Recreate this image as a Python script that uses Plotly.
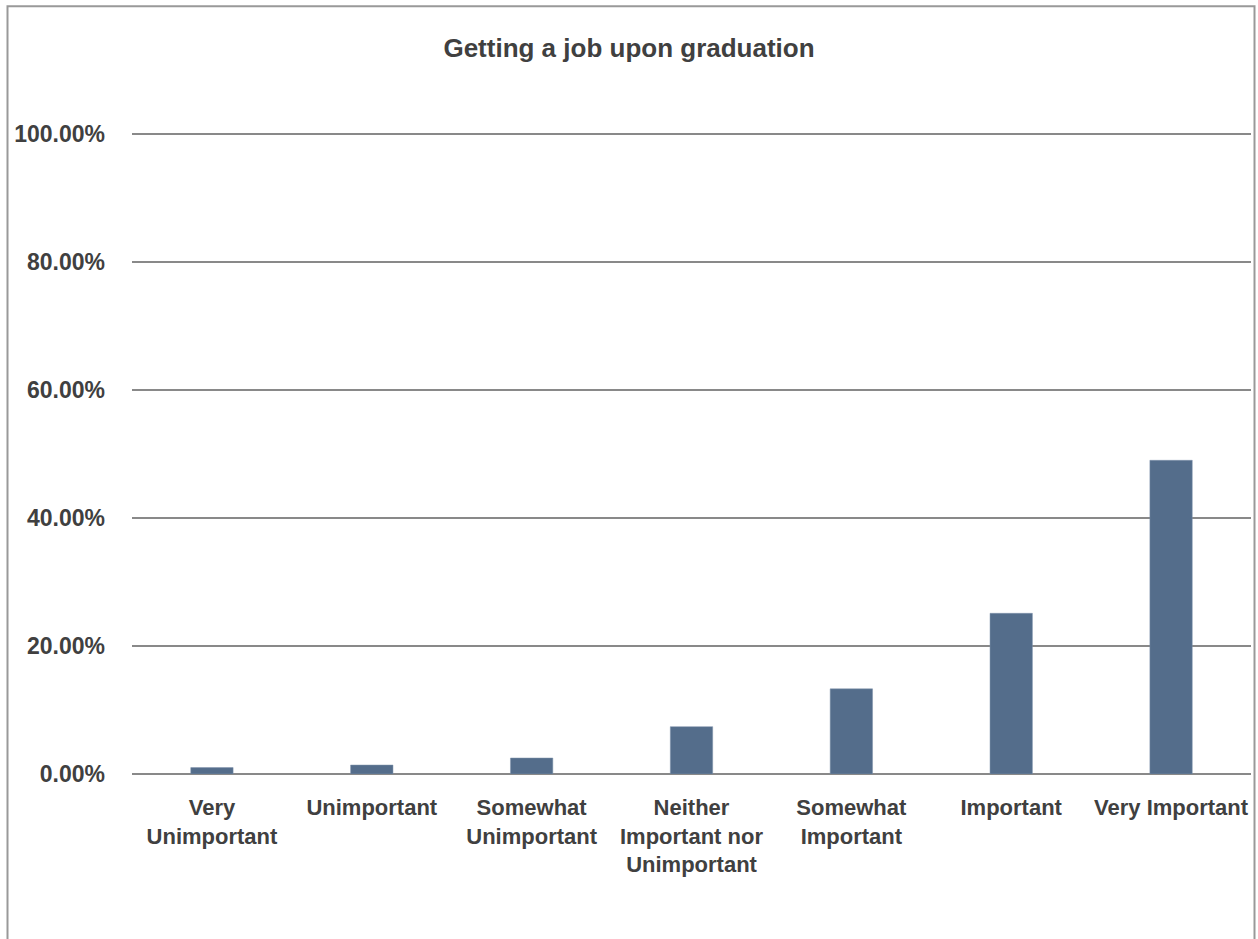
import plotly.graph_objects as go

categories = ["Very<br>Unimportant", "Unimportant", "Somewhat<br>Unimportant",
              "Neither<br>Important nor<br>Unimportant", "Somewhat<br>Important",
              "Important", "Very Important"]
values = [0.010, 0.014, 0.025, 0.074, 0.133, 0.251, 0.490]
y_ticks = [0, 0.2, 0.4, 0.6, 0.8, 1.0]
y_tick_labels = ["0.00%", "20.00%", "40.00%", "60.00%", "80.00%", "100.00%"]
title = "Getting a job upon graduation"

FONT = "Liberation Sans, Arial, sans-serif"
TXT = "#404040"

Y_MAX = 1.02
plot_h = 640 * Y_MAX
top = 774 - plot_h

fig = go.Figure(go.Bar(x=categories, y=values, marker=dict(color="#546D8B",
                line=dict(color="#7F93AB", width=0.5))))

fig.update_layout(
    width=1258, height=939,
    margin=dict(l=132, r=7, t=top, b=165, autoexpand=False),
    paper_bgcolor="white", plot_bgcolor="white",
    bargap=0.735,
    showlegend=False,
    font=dict(family=FONT, color=TXT, size=22),
    title=dict(text="<b>" + title + "</b>", x=0.5, xref="container", xanchor="center",
               y=1 - 48 / 939, yanchor="middle", yref="container",
               font=dict(family=FONT, size=26, color=TXT)),
    xaxis=dict(showgrid=False, showline=False, zeroline=False, ticks="",
               tickfont=dict(family=FONT, size=22, color=TXT, weight="bold"),
               ticklabelstandoff=18),
    yaxis=dict(range=[0, Y_MAX], tickvals=y_ticks, ticktext=y_tick_labels,
               showgrid=True, gridcolor="#898989", gridwidth=1.5,
               zeroline=True, zerolinecolor="#898989", zerolinewidth=2,
               showline=False, ticks="",
               tickfont=dict(family=FONT, size=23, color=TXT, weight="bold"),
               ticklabelstandoff=26),
    shapes=[dict(type="rect", xref="paper", yref="paper",
                 x0=(7.5 - 132) / 1119, x1=(1254.5 - 132) / 1119,
                 y0=(774 - 950) / plot_h, y1=(774 - 6.5) / plot_h,
                 line=dict(color="#999999", width=2), fillcolor="rgba(0,0,0,0)",
                 layer="below")],
)

fig.write_html("out.html", config={"displayModeBar": False},
               post_script="document.body.style.margin='0';")
